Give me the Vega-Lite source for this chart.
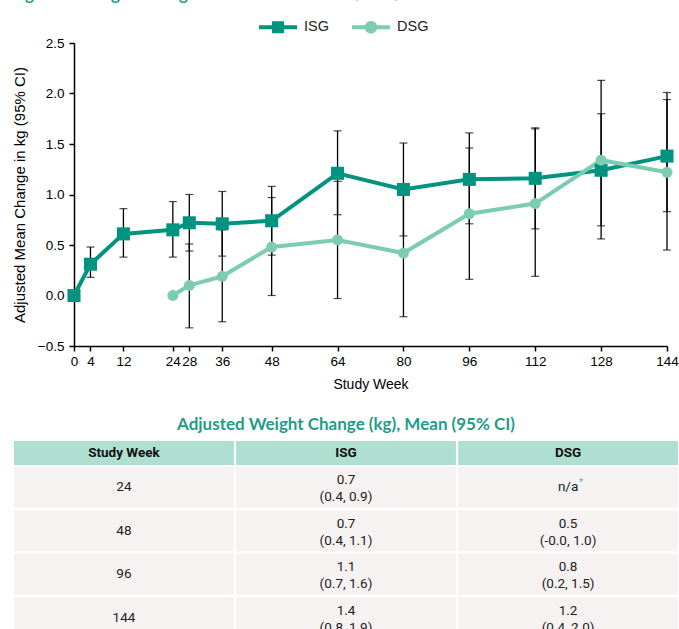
{
  "$schema": "https://vega.github.io/schema/vega-lite/v6.json",
  "padding": {"left": 11, "top": -14, "right": 0, "bottom": 0},
  "background": "white",
  "title": {"text": "Figure 2. Weight Change After Switch to DOR/3TC/TDF", "anchor": "start", "font": "Lato", "fontSize": 17, "fontWeight": "bold", "color": "#1f9d87", "offset": 4, "dx": -1},
  "spacing": 24,
  "config": {
    "view": {"stroke": null},
    "font": "Liberation Sans",
    "axis": {"domainColor": "black", "tickColor": "black", "labelColor": "black", "titleColor": "black", "labelFont": "Liberation Sans", "titleFont": "Liberation Sans", "titleFontWeight": "normal", "grid": false}
  },
  "vconcat": [
    {
      "width": 593,
      "height": 303,
      "data": {"values": [
        {"group": "ISG", "week": 0, "mean": 0.0, "lo": null, "hi": null},
        {"group": "ISG", "week": 4, "mean": 0.31, "lo": 0.18, "hi": 0.48},
        {"group": "ISG", "week": 12, "mean": 0.61, "lo": 0.38, "hi": 0.86},
        {"group": "ISG", "week": 24, "mean": 0.65, "lo": 0.38, "hi": 0.93},
        {"group": "ISG", "week": 28, "mean": 0.72, "lo": 0.44, "hi": 1.0},
        {"group": "ISG", "week": 36, "mean": 0.71, "lo": 0.39, "hi": 1.03},
        {"group": "ISG", "week": 48, "mean": 0.74, "lo": 0.4, "hi": 1.08},
        {"group": "ISG", "week": 64, "mean": 1.21, "lo": 0.8, "hi": 1.63},
        {"group": "ISG", "week": 80, "mean": 1.05, "lo": 0.59, "hi": 1.51},
        {"group": "ISG", "week": 96, "mean": 1.15, "lo": 0.71, "hi": 1.61},
        {"group": "ISG", "week": 112, "mean": 1.16, "lo": 0.66, "hi": 1.66},
        {"group": "ISG", "week": 128, "mean": 1.24, "lo": 0.69, "hi": 1.8},
        {"group": "ISG", "week": 144, "mean": 1.38, "lo": 0.83, "hi": 1.94},
        {"group": "DSG", "week": 24, "mean": 0.0, "lo": null, "hi": null},
        {"group": "DSG", "week": 28, "mean": 0.1, "lo": -0.32, "hi": 0.51},
        {"group": "DSG", "week": 36, "mean": 0.19, "lo": -0.26, "hi": 0.65},
        {"group": "DSG", "week": 48, "mean": 0.48, "lo": 0.0, "hi": 0.97},
        {"group": "DSG", "week": 64, "mean": 0.55, "lo": -0.03, "hi": 1.13},
        {"group": "DSG", "week": 80, "mean": 0.42, "lo": -0.21, "hi": 1.05},
        {"group": "DSG", "week": 96, "mean": 0.81, "lo": 0.16, "hi": 1.46},
        {"group": "DSG", "week": 112, "mean": 0.91, "lo": 0.19, "hi": 1.65},
        {"group": "DSG", "week": 128, "mean": 1.34, "lo": 0.56, "hi": 2.13},
        {"group": "DSG", "week": 144, "mean": 1.22, "lo": 0.45, "hi": 2.01}
      ]},
      "encoding": {
        "x": {"field": "week", "type": "quantitative", "scale": {"domain": [0, 144], "nice": false, "zero": false},
          "axis": {"title": "Study Week", "values": [0, 4, 12, 24, 28, 36, 48, 64, 80, 96, 112, 128, 144], "labelOverlap": false, "labelFlush": false, "labelFontSize": 13.5, "titleFontSize": 14, "tickSize": 5, "labelPadding": 3, "titlePadding": 10, "domainWidth": 1.5, "tickWidth": 1.5}}
      },
      "layer": [
        {
          "mark": {"type": "rule", "color": "#333333", "strokeWidth": 1.2},
          "encoding": {"y": {"datum": 0, "type": "quantitative", "title": "Adjusted Mean Change in kg (95% CI)",
            "scale": {"domain": [-0.5, 2.5], "nice": false, "zero": false},
            "axis": {"values": [-0.5, 0, 0.5, 1, 1.5, 2, 2.5], "format": ".1f", "labelFontSize": 13.5, "titleFontSize": 15, "tickSize": 5, "labelPadding": 5, "minExtent": 34, "maxExtent": 34, "titlePadding": 13, "domainWidth": 1.5, "tickWidth": 1.5}}}
        },
        {
          "transform": [{"filter": "datum.lo != null"}],
          "mark": {"type": "errorbar", "ticks": {"size": 8, "color": "black", "thickness": 1.2}, "rule": {"color": "black", "strokeWidth": 1.3}},
          "encoding": {"y": {"field": "lo", "type": "quantitative", "title": "Adjusted Mean Change in kg (95% CI)"}, "y2": {"field": "hi"}}
        },
        {
          "mark": {"type": "line", "strokeWidth": 4},
          "encoding": {
            "y": {"field": "mean", "type": "quantitative", "title": "Adjusted Mean Change in kg (95% CI)"},
            "color": {"field": "group", "type": "nominal", "sort": ["ISG", "DSG"],
              "scale": {"domain": ["ISG", "DSG"], "range": ["#00937f", "#7ccbb3"]},
              "legend": {
                "orient": "none", "legendX": 185, "legendY": -35, "direction": "horizontal", "title": null,
                "symbolSize": 1444, "labelFontSize": 14.5, "labelFont": "Liberation Sans", "labelColor": "#222222", "columnPadding": 23, "labelOffset": 7,
                "encode": {"symbols": {"update": {
                  "shape": {"signal": "datum.value === 'ISG' ? 'M-1,-0.105H1V0.105H-1Z M-0.32,-0.32H0.32V0.32H-0.32Z' : 'M-1,-0.105H1V0.105H-1Z M0.33,0A0.33,0.33 0 1,1 -0.33,0A0.33,0.33 0 1,1 0.33,0Z'"},
                  "fill": {"signal": "datum.value === 'ISG' ? '#00937f' : '#7ccbb3'"},
                  "fillOpacity": {"value": 1},
                  "strokeWidth": {"value": 0}
                }}}
              }},
            "order": {"field": "week"}
          }
        },
        {
          "transform": [{"filter": "datum.group === 'ISG'"}],
          "mark": {"type": "point", "shape": "square", "filled": true, "size": 170, "opacity": 1},
          "encoding": {"y": {"field": "mean", "type": "quantitative"}, "color": {"field": "group", "type": "nominal"}}
        },
        {
          "transform": [{"filter": "datum.group === 'DSG'"}],
          "mark": {"type": "point", "shape": "circle", "filled": true, "size": 120, "opacity": 1},
          "encoding": {"y": {"field": "mean", "type": "quantitative"}, "color": {"field": "group", "type": "nominal"}}
        }
      ]
    },
    {
      "spacing": 2,
      "vconcat": [
        {
          "width": 664,
          "height": 24,
          "title": {"text": "Adjusted Weight Change (kg), Mean (95% CI)", "font": "Lato", "fontSize": 17, "fontWeight": "bold", "color": "#1f9d87", "anchor": "middle", "offset": 7, "dx": -60},
          "data": {"values": [
            {"row": "h", "col": "Study Week"},
            {"row": "h", "col": "ISG"},
            {"row": "h", "col": "DSG"}
          ]},
          "encoding": {
            "x": {"field": "col", "type": "nominal", "sort": ["Study Week", "ISG", "DSG"], "scale": {"range": [-60, 604], "paddingInner": 0.01, "paddingOuter": 0}, "axis": null},
            "y": {"field": "row", "type": "nominal", "scale": {"paddingInner": 0, "paddingOuter": 0}, "axis": null}
          },
          "layer": [
            {"mark": {"type": "rect", "color": "#aedfd0"}},
            {"mark": {"type": "text", "font": "Roboto", "fontSize": 13.5, "fontWeight": "bold", "color": "#111111", "baseline": "middle"},
             "encoding": {"text": {"field": "col"}}}
          ]
        },
        {
          "width": 664,
          "height": 171,
          "data": {"values": [
            {"week": "24", "col": "Study Week", "text": "24"},
            {"week": "24", "col": "ISG", "text": "0.7", "ci": "(0.4, 0.9)"},
            {"week": "24", "col": "DSG", "text": "n/a", "note": "*"},
            {"week": "48", "col": "Study Week", "text": "48"},
            {"week": "48", "col": "ISG", "text": "0.7", "ci": "(0.4, 1.1)"},
            {"week": "48", "col": "DSG", "text": "0.5", "ci": "(-0.0, 1.0)"},
            {"week": "96", "col": "Study Week", "text": "96"},
            {"week": "96", "col": "ISG", "text": "1.1", "ci": "(0.7, 1.6)"},
            {"week": "96", "col": "DSG", "text": "0.8", "ci": "(0.2, 1.5)"},
            {"week": "144", "col": "Study Week", "text": "144"},
            {"week": "144", "col": "ISG", "text": "1.4", "ci": "(0.8, 1.9)"},
            {"week": "144", "col": "DSG", "text": "1.2", "ci": "(0.4, 2.0)"}
          ]},
          "encoding": {
            "x": {"field": "col", "type": "nominal", "sort": ["Study Week", "ISG", "DSG"], "scale": {"range": [-60, 604], "paddingInner": 0.01, "paddingOuter": 0}, "axis": null},
            "y": {"field": "week", "type": "nominal", "sort": ["24", "48", "96", "144"], "scale": {"paddingInner": 0.06, "paddingOuter": 0}, "axis": null}
          },
          "layer": [
            {"mark": {"type": "rect", "color": "#f5f2f1"}},
            {"transform": [{"filter": "datum.ci == null"}],
             "mark": {"type": "text", "font": "Roboto", "fontSize": 13.5, "color": "#222222", "baseline": "middle"},
             "encoding": {"text": {"field": "text"}}},
            {"transform": [{"filter": "datum.ci != null"}],
             "mark": {"type": "text", "font": "Roboto", "fontSize": 13.5, "color": "#222222", "baseline": "middle", "dy": -7},
             "encoding": {"text": {"field": "text"}}},
            {"transform": [{"filter": "datum.ci != null"}],
             "mark": {"type": "text", "font": "Roboto", "fontSize": 13.5, "color": "#222222", "baseline": "middle", "dy": 10},
             "encoding": {"text": {"field": "ci"}}},
            {"transform": [{"filter": "datum.note != null"}],
             "mark": {"type": "text", "font": "Liberation Sans", "fontSize": 10, "color": "#2bb59b", "baseline": "middle", "dx": 13, "dy": -4},
             "encoding": {"text": {"field": "note"}}}
          ]
        }
      ]
    }
  ]
}
